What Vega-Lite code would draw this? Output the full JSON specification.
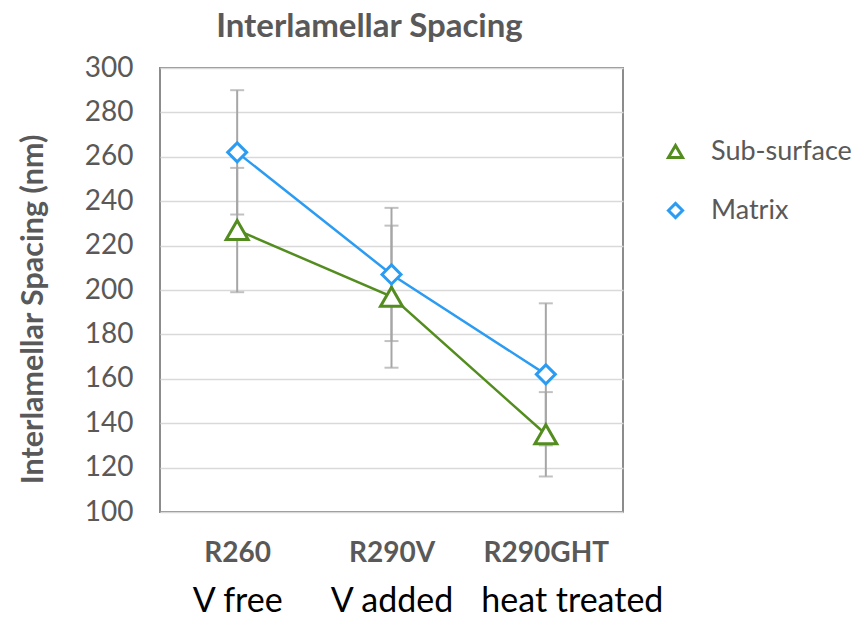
{
  "$schema": "https://vega.github.io/schema/vega-lite/v6.json",
  "width": 463,
  "height": 444,
  "autosize": {"type": "none"},
  "padding": {"left": 160, "top": 68, "right": 230, "bottom": 105},
  "background": "white",
  "title": {"text": "Interlamellar Spacing", "font": "Lato", "fontSize": 33, "fontWeight": "bold", "color": "#595959", "anchor": "middle", "dx": -22, "offset": 10},
  "data": {"values": [
    {"alloy": "R260", "condition": "V free", "idx": 1, "series": "Sub-surface", "value": 227, "lo": 199, "hi": 255},
    {"alloy": "R290V", "condition": "V added", "idx": 2, "series": "Sub-surface", "value": 197, "lo": 165, "hi": 229},
    {"alloy": "R290GHT", "condition": "heat treated", "idx": 3, "series": "Sub-surface", "value": 135, "lo": 116, "hi": 154},
    {"alloy": "R260", "condition": "V free", "idx": 1, "series": "Matrix", "value": 262, "lo": 234, "hi": 290},
    {"alloy": "R290V", "condition": "V added", "idx": 2, "series": "Matrix", "value": 207, "lo": 177, "hi": 237},
    {"alloy": "R290GHT", "condition": "heat treated", "idx": 3, "series": "Matrix", "value": 162, "lo": 130, "hi": 194}
  ]},
  "config": {
    "view": {"stroke": "#8c8c8c", "strokeWidth": 2},
    "axisX": {"grid": false, "domain": false, "ticks": false, "tickSize": 0, "labelFont": "Lato", "labelFontSize": 28, "labelFontWeight": "bold", "labelColor": "#595959", "labelPadding": 27, "labelBaseline": "top", "labelAngle": 0, "labelLimit": 0, "labelOverlap": false},
    "axisY": {"grid": true, "gridColor": "#d9d9d9", "gridWidth": 1.5, "domain": false, "ticks": false, "tickSize": 0, "labelFont": "Lato", "labelFontSize": 28, "labelColor": "#595959", "labelPadding": 27, "values": [100, 120, 140, 160, 180, 200, 220, 240, 260, 280, 300], "titleFont": "Lato", "titleFontSize": 30.5, "titleFontWeight": "bold", "titleColor": "#595959", "titleX": -127, "titleY": 241, "titleBaseline": "middle", "titleAngle": -90, "titleAlign": "center"},
    "legend": {"orient": "none", "legendX": 502, "legendY": 70, "labelFont": "Lato", "labelFontSize": 27, "labelColor": "#595959", "symbolSize": 200, "symbolStrokeWidth": 3, "symbolFillColor": "white", "rowPadding": 31, "labelOffset": 22, "title": null}
  },
  "layer": [
    {
      "layer": [
        {
          "mark": {"type": "errorbar", "ticks": {"size": 14, "thickness": 2, "color": "#a6a6a6"}, "rule": {"strokeWidth": 2, "color": "#a6a6a6"}},
          "encoding": {
            "x": {"field": "alloy", "type": "nominal", "sort": ["R260", "R290V", "R290GHT"], "scale": {"type": "point", "padding": 0.5}, "title": null},
            "y": {"field": "lo", "type": "quantitative", "scale": {"domain": [100, 300]}, "title": "Interlamellar Spacing (nm)"},
            "y2": {"field": "hi"}
          }
        },
        {
          "mark": {"type": "line", "strokeWidth": 2.5},
          "encoding": {
            "x": {"field": "alloy", "type": "nominal", "sort": ["R260", "R290V", "R290GHT"], "scale": {"type": "point", "padding": 0.5}, "title": null},
            "y": {"field": "value", "type": "quantitative", "scale": {"domain": [100, 300]}, "title": "Interlamellar Spacing (nm)"},
            "stroke": {"field": "series", "type": "nominal", "scale": {"domain": ["Sub-surface", "Matrix"], "range": ["#548d1f", "#2b9cf2"]}, "legend": null},
            "order": {"field": "idx", "type": "quantitative"}
          }
        },
        {
          "mark": {"type": "point", "filled": false, "fill": "white", "strokeWidth": 3, "opacity": 1},
          "encoding": {
            "x": {"field": "alloy", "type": "nominal", "sort": ["R260", "R290V", "R290GHT"], "scale": {"type": "point", "padding": 0.5}, "title": null},
            "y": {"field": "value", "type": "quantitative", "scale": {"domain": [100, 300]}, "title": "Interlamellar Spacing (nm)"},
            "color": {"field": "series", "type": "nominal", "scale": {"domain": ["Sub-surface", "Matrix"], "range": ["#548d1f", "#2b9cf2"]}, "legend": {"title": null}},
            "shape": {"field": "series", "type": "nominal", "scale": {"domain": ["Sub-surface", "Matrix"], "range": ["triangle-up", "diamond"]}, "legend": {"title": null}},
            "size": {"field": "series", "type": "nominal", "scale": {"domain": ["Sub-surface", "Matrix"], "range": [480, 360]}, "legend": null}
          }
        }
      ],
      "resolve": {"scale": {"color": "independent", "shape": "independent"}, "legend": {"color": "independent", "shape": "independent"}}
    },
    {
      "mark": {"type": "point", "opacity": 0},
      "encoding": {
        "x": {"field": "condition", "type": "nominal", "sort": ["V free", "V added", "heat treated"], "scale": {"type": "point", "padding": 0.5}, "title": null, "axis": {"orient": "bottom", "labelFont": "Lato", "labelFontSize": 34, "labelFontWeight": "normal", "labelColor": "#000000", "labelPadding": 72, "labelOffset": {"condition": {"test": "datum.value == 'heat treated'", "value": 26}, "value": 0}}}
      }
    }
  ],
  "resolve": {"scale": {"x": "independent"}, "axis": {"x": "independent"}}
}
